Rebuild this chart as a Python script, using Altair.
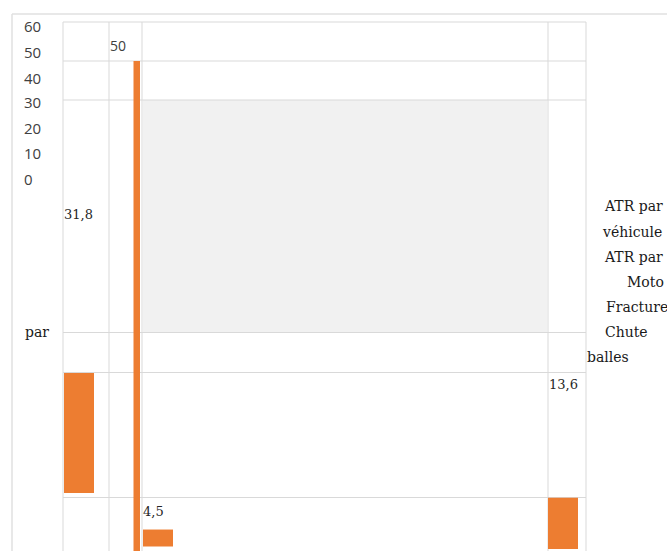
import altair as alt
import pandas as pd

# ---- data ----
categories = ["ATR par véhicule", "ATR par Moto", "Fracture par balles", "Chute"]
values = [31.8, 50, 4.5, 13.6]
value_labels = ["31,8", "50", "4,5", "13,6"]
tick_values = [60, 50, 40, 30, 20, 10, 0]
legend_lines = ["ATR par", "véhicule", "ATR par", "Moto", "Fracture", "Chute", "balles"]
left_word = ["par"]

# ---- layout (canvas pixel space) ----
W, H = 667, 551
K = 3.77  # px per unit for bars
bar_left = [64, 133.5, 143, 548]
bar_right = [94, 140, 173, 578]
bar_bottom = [493, 560, 546.5, 549]
bar_top = [b - v * K for b, v in zip(bar_bottom, values)]
bar_top[1] = 61  # the thin bar is drawn stretched in the original
label_x = [64, 110, 143, 549]
label_y = [215, 47, 512, 385]
tick_y = [27, 53, 79, 103, 129, 154, 180]
legend_x = [605, 603, 605, 627, 606, 605, 587]
legend_y = [207, 233, 258, 283, 308, 333, 358]
hgrid_y = [22, 61, 100, 332.5, 372.5, 497.5]
vgrid_x = [63, 109, 142, 548, 586]

xs = alt.Scale(domain=[0, W], range=[0, W], nice=False, zero=False)
ys = alt.Scale(domain=[0, H], range=[0, H], nice=False, zero=False)

def X(f):
    return alt.X(f, type="quantitative", scale=xs, axis=None)

def Y(f):
    return alt.Y(f, type="quantitative", scale=ys, axis=None)

GRID = "#d9d9d9"

frame_df = pd.DataFrame({"x": [12, 12], "x2": [W, 12], "y": [14, 14], "y2": [14, H]})
frame = alt.Chart(frame_df).mark_rule(color="#e0e0e0", strokeWidth=1.5).encode(
    x=X("x"), x2="x2", y=Y("y"), y2="y2")

hatch_df = pd.DataFrame({"x": [143], "x2": [547], "y": [100], "y2": [332]})
hatch = alt.Chart(hatch_df).mark_rect(color="#f1f1f1").encode(
    x=X("x"), x2="x2", y=Y("y"), y2="y2")

hg = pd.DataFrame({"y": hgrid_y, "x": [63] * len(hgrid_y), "x2": [586] * len(hgrid_y)})
hgrid = alt.Chart(hg).mark_rule(color=GRID, strokeWidth=1).encode(
    x=X("x"), x2="x2", y=Y("y"))

vg = pd.DataFrame({"x": vgrid_x, "y": [22] * len(vgrid_x), "y2": [H] * len(vgrid_x)})
vgrid = alt.Chart(vg).mark_rule(color=GRID, strokeWidth=1).encode(
    x=X("x"), y=Y("y"), y2="y2")

bars_df = pd.DataFrame({"cat": categories, "v": values,
                        "x": bar_left, "x2": bar_right,
                        "y": bar_top, "y2": bar_bottom})
bars = alt.Chart(bars_df).mark_rect(color="#ED7D31").encode(
    x=X("x"), x2="x2", y=Y("y"), y2="y2")

lab_df = pd.DataFrame({"t": value_labels, "x": label_x, "y": label_y})
serif_labels = alt.Chart(lab_df[lab_df["t"] != "50"]).mark_text(
    font="DejaVu Serif", fontSize=13, color="#262626", align="left", baseline="middle"
).encode(x=X("x"), y=Y("y"), text="t")
sans_labels = alt.Chart(lab_df[lab_df["t"] == "50"]).mark_text(
    font="Open Sans", fontSize=14, color="#404040", align="left", baseline="middle"
).encode(x=X("x"), y=Y("y"), text="t")

tick_df = pd.DataFrame({"t": [str(v) for v in tick_values], "x": [24] * 7, "y": tick_y})
ticks = alt.Chart(tick_df).mark_text(
    font="Open Sans", fontSize=15, color="#404040", align="left", baseline="middle"
).encode(x=X("x"), y=Y("y"), text="t")

leg_df = pd.DataFrame({"t": legend_lines + left_word,
                       "x": legend_x + [25], "y": legend_y + [333]})
legend = alt.Chart(leg_df).mark_text(
    font="DejaVu Serif", fontSize=14, color="#1a1a1a", align="left", baseline="middle"
).encode(x=X("x"), y=Y("y"), text="t")

chart = alt.layer(frame, hatch, hgrid, vgrid, bars, serif_labels, sans_labels, ticks, legend).properties(
    width=W, height=H, autosize=alt.AutoSizeParams(type="none"), padding=0, background="white"
).configure_view(stroke=None)

chart.save("out.html", embed_options={"renderer": "svg", "actions": False})
